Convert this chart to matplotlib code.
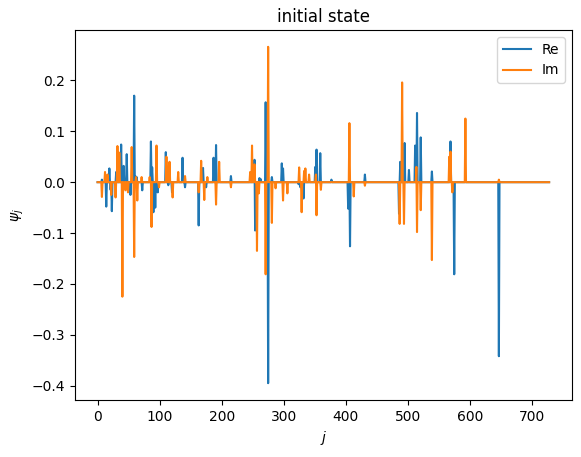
import numpy as np
import matplotlib
matplotlib.use("Agg")
import matplotlib.pyplot as plt

N = 729

re_idx = [7, 14, 19, 21, 23, 30, 38, 41, 42, 47, 53, 59, 61, 63, 72, 86, 88, 90, 93, 97,
          110, 114, 120, 137, 141, 163, 170, 175, 187, 191, 215, 251, 253, 254, 261, 263,
          271, 275, 281, 297, 299, 324, 327, 332, 351, 353, 359, 377, 404, 407, 431,
          486, 488, 495, 502, 512, 515, 521, 539, 569, 574, 575, 647]
re_val = [0.005, -0.048, 0.027, -0.015, -0.057, 0.02, 0.074, -0.02, 0.032, 0.055, -0.025, 0.17,
          0.012, 0.01, -0.016, 0.08, 0.029, -0.059, -0.05, -0.02,
          0.059, -0.006, -0.02, 0.048, -0.01, -0.085, 0.028, -0.01, 0.048, 0.073, 0.012,
          0.035, 0.044, -0.095, 0.008, 0.006,
          0.157, -0.395, 0.01, 0.037, 0.027, -0.004, -0.01, -0.032, 0.03, 0.064, 0.057, 0.005,
          -0.052, -0.126, 0.015,
          -0.062, 0.04, 0.077, 0.024, 0.072, 0.136, 0.088, 0.021, 0.08, -0.02, -0.181, -0.342]

im_idx = [7, 12, 16, 22, 29, 32, 35, 40, 45, 49, 55, 59, 62, 64, 71, 84, 87, 95, 99,
          111, 113, 116, 121, 130, 141, 163, 167, 172, 177, 191, 196, 215,
          246, 249, 253, 257, 260, 271, 275, 281, 287, 299, 306, 325, 329, 333, 335, 341,
          352, 353, 360, 406, 413, 431, 487, 491, 494, 514, 515, 521, 539, 567, 569, 572,
          593, 647]
im_val = [-0.029, 0.02, 0.015, -0.025, -0.03, 0.071, 0.058, -0.225, -0.016, -0.02, 0.069, -0.147,
          0.01, -0.036, 0.01, 0.01, -0.088, 0.072, -0.01,
          0.05, 0.03, 0.04, -0.03, 0.02, 0.012, -0.02, 0.042, -0.035, 0.01, -0.044, 0.04, -0.01,
          0.02, 0.072, 0.035, -0.135, -0.022, -0.181, 0.266, -0.080, -0.012, -0.036, -0.022,
          0.029, -0.059, 0.022, 0.027, 0.015,
          0.015, -0.065, -0.015, 0.116, -0.028, -0.007, -0.082, 0.196, -0.082, 0.03, -0.098,
          -0.055, -0.153, 0.05, 0.06, -0.02,
          0.125, 0.005]

re = np.zeros(N)
im = np.zeros(N)
re[re_idx] = re_val
im[im_idx] = im_val
j = np.arange(N)

fig = plt.figure(figsize=(5.81, 4.57), dpi=100)
ax = fig.add_axes([75 / 581, 1 - 400 / 457, (571.7 - 75) / 581, 370 / 457])
ax.plot(j, re, label="Re")
ax.plot(j, im, label="Im")
ax.set_title("initial state")
ax.set_xlabel("$j$")
ax.set_ylabel(r"$\psi_j$")
ax.legend(loc="upper right")
fig.savefig("out.png", dpi=100)
